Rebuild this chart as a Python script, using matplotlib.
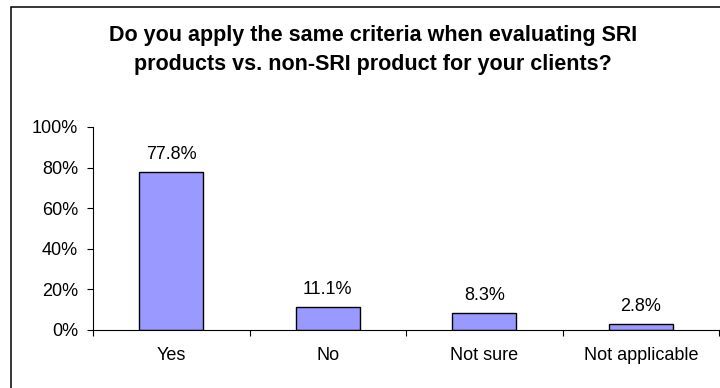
import numpy as np
import matplotlib.pyplot as plt
from matplotlib.patches import Rectangle
from matplotlib.ticker import FixedLocator, NullFormatter

categories = ['Yes', 'No', 'Not sure', 'Not applicable']
values = [77.8, 11.1, 8.3, 2.8]
labels = ['77.8%', '11.1%', '8.3%', '2.8%']
yticks = [0, 20, 40, 60, 80, 100]

plt.rcParams['font.family'] = ['Liberation Sans', 'DejaVu Sans']

fig = plt.figure(figsize=(7.2, 3.88), dpi=100)
W, H = 720, 388

# outer chart frame (only left/top visible, the rest is cut off)
fig.patches.append(Rectangle((11 / W, -0.1), 1.2, 1 - 7 / H + 0.1,
                             transform=fig.transFigure, fill=False,
                             edgecolor='black', linewidth=1.1))

ax = fig.add_axes([93 / W, 1 - 330 / H, (719 - 93) / W, (330 - 127) / H])
x = np.arange(len(categories))
ax.bar(x, values, width=0.41, color='#9999FF', edgecolor='black', linewidth=1)
for xi, v, lab in zip(x, values, labels):
    ax.annotate(lab, (xi, v), xytext=(0, 13), textcoords='offset points',
                ha='center', va='center', fontsize=13)

ax.set_xlim(-0.5, len(categories) - 0.5)
ax.set_ylim(0, 100)
ax.set_yticks(yticks)
ax.set_yticklabels([f'{t}%' for t in yticks], fontsize=13)
ax.xaxis.set_major_locator(FixedLocator(np.arange(len(categories) + 1) - 0.5))
ax.xaxis.set_major_formatter(NullFormatter())
ax.xaxis.set_minor_locator(FixedLocator(x))
ax.set_xticklabels(categories, minor=True, fontsize=13)
ax.tick_params(axis='x', which='minor', length=0, pad=12)
ax.tick_params(axis='x', which='major', length=4, direction='out')
ax.tick_params(axis='y', length=4.3, direction='out', pad=6.5)
for s in ['top', 'right']:
    ax.spines[s].set_visible(False)

fig.text(373 / W, 1 - 50 / H,
         'Do you apply the same criteria when evaluating SRI\nproducts vs. non-SRI product for your clients?',
         ha='center', va='center', fontsize=15.5, fontweight='bold', linespacing=1.45)

fig.savefig('out.png', dpi=100)
